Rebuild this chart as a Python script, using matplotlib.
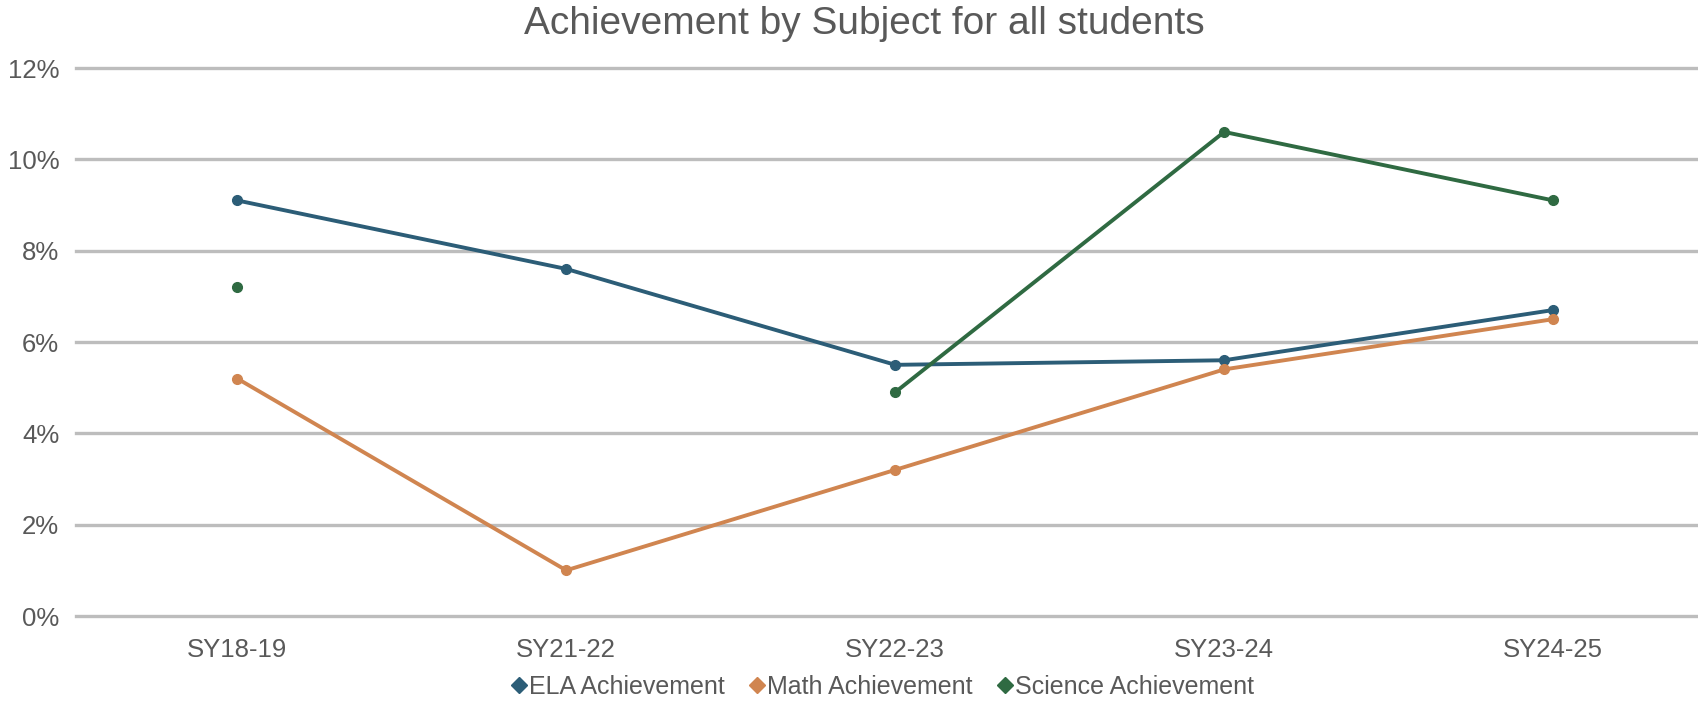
import matplotlib.pyplot as plt
import numpy as np

plt.rcParams["font.family"] = ["Liberation Sans", "DejaVu Sans"]

# school years on the x axis
years = ["SY18-19", "SY21-22", "SY22-23", "SY23-24", "SY24-25"]

# achievement rates in percent (nan = no data that year)
ela = [9.1, 7.6, 5.5, 5.6, 6.7]
math_ach = [5.2, 1.0, 3.2, 5.4, 6.5]
science = [7.2, np.nan, 4.9, 10.6, 9.1]

y_ticks = [0, 2, 4, 6, 8, 10, 12]

series = [
    ("ELA Achievement", ela, "#2c5d77"),
    ("Math Achievement", math_ach, "#d08550"),
    ("Science Achievement", science, "#2f6a42"),
]

text_grey = "#595959"

fig = plt.figure(figsize=(16.98, 7.02), dpi=100)
ax = fig.add_axes([76 / 1698, 1 - 616 / 702, 1 - 76 / 1698, (616 - 68) / 702])

x = np.arange(len(years))
for name, vals, col in series:
    ax.plot(x, vals, color=col, lw=2.8, marker="o", markersize=7, label=name, zorder=3)

ax.set_xlim(-0.49, 4.44)
ax.set_ylim(0, 12)
ax.set_yticks(y_ticks)
ax.set_yticklabels([f"{v}%" for v in y_ticks])
ax.set_xticks(x)
ax.set_xticklabels(years)
ax.tick_params(axis="both", length=0, labelsize=18.5, colors=text_grey)
ax.tick_params(axis="y", pad=12)
ax.tick_params(axis="x", pad=16)

ax.grid(axis="y", color="#bdbdbd", lw=2.4)
ax.set_axisbelow(True)
# keep the 0% and 12% lines at full width
for gl in ax.get_ygridlines():
    gl.set_clip_on(False)
for s in ax.spines.values():
    s.set_visible(False)

fig.text(0.509, 1 - 24 / 702, "Achievement by Subject for all students",
         ha="center", va="center", fontsize=28, color=text_grey)

handles = [plt.Line2D([], [], color=c, marker="D", ls="none", markersize=8) for _, _, c in series]
fig.legend(handles, [n for n, _, _ in series], loc="center", bbox_to_anchor=(0.52, 1 - 687 / 702),
           ncol=3, frameon=False, fontsize=18, labelcolor=text_grey,
           handlelength=0.6, handletextpad=0.1, columnspacing=1.0)

fig.savefig("out.png", dpi=100)
